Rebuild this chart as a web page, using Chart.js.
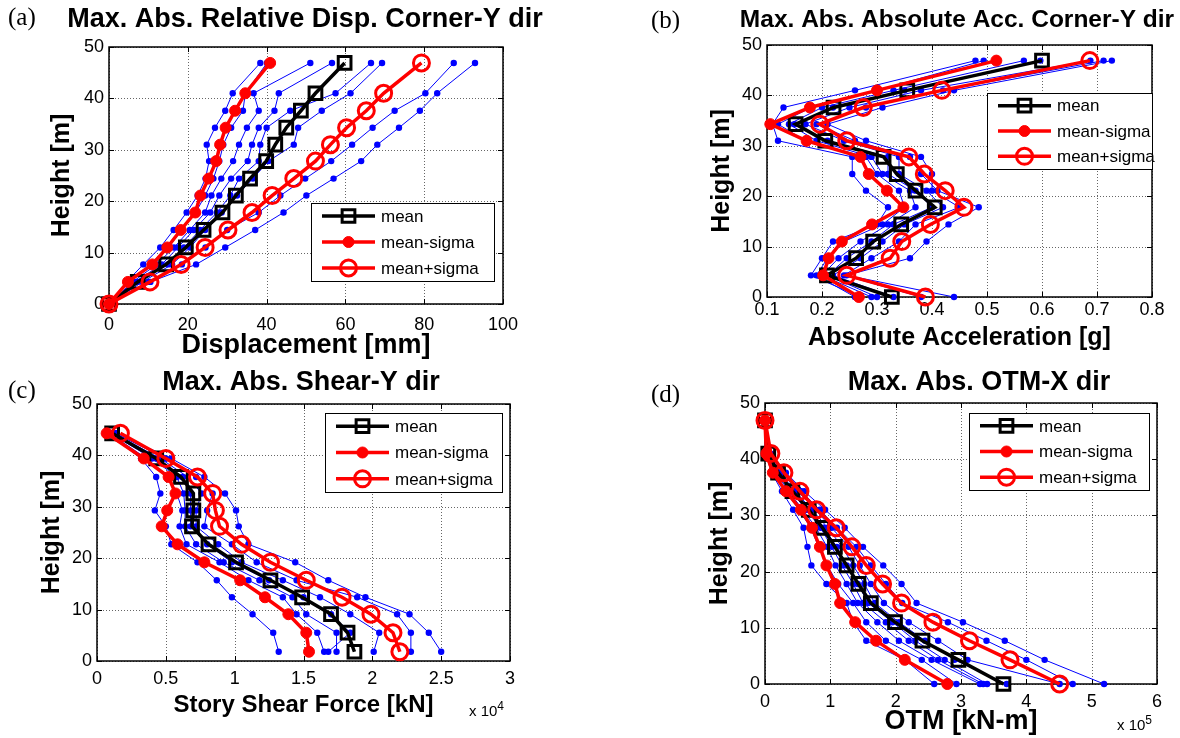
<!DOCTYPE html>
<html>
<head>
<meta charset="utf-8">
<script src="https://cdn.jsdelivr.net/npm/chart.js@4.4.0/dist/chart.umd.min.js"></script>
<style>
  body { margin: 0; background: #fff; }
  #page { position: relative; width: 1180px; height: 738px; overflow: hidden; font-family: "Liberation Sans", Arial, sans-serif; }
  canvas { position: absolute; }
  .tag { position: absolute; font-family: "Liberation Serif", "Times New Roman", serif; font-size: 25px; color: #000; }
  .mult { position: absolute; font-size: 15px; color: #000; }
  .mult sup { font-size: 12px; }
</style>
</head>
<body>
<div id="page">
  <canvas id="pa" width="590" height="369" style="left:0;top:0"></canvas>
  <canvas id="pb" width="590" height="369" style="left:590px;top:0"></canvas>
  <canvas id="pc" width="590" height="369" style="left:0;top:369px"></canvas>
  <canvas id="pd" width="590" height="369" style="left:590px;top:369px"></canvas>
  <span class="tag" style="left:8px;top:3px">(a)</span>
  <span class="tag" style="left:651px;top:6px">(b)</span>
  <span class="tag" style="left:8px;top:376px">(c)</span>
  <span class="tag" style="left:651px;top:380px">(d)</span>
  <span class="mult" style="left:469px;top:699px">x 10<sup>4</sup></span>
  <span class="mult" style="left:1117px;top:713px">x 10<sup>5</sup></span>
</div>
<script>
// --- datos ---
const heights = [0, 4.3, 7.7, 11.0, 14.4, 17.8, 21.1, 24.4, 27.8, 31.0, 34.3, 37.6, 41.0, 46.9];
const shearHeights = [1.8, 5.5, 9.1, 12.4, 15.7, 19.2, 22.7, 26.2, 29.3, 32.6, 35.8, 39.4, 44.3];

// (a) desplazamiento relativo [mm]
const dispMean  = [0, 7.3, 14.5, 19.5, 24.0, 28.8, 32.2, 35.8, 39.9, 42.2, 45.0, 48.7, 52.4, 59.8];
const dispMinus = [0, 4.8, 11.0, 14.8, 18.2, 21.9, 23.2, 25.3, 27.2, 28.2, 29.6, 32.0, 34.6, 40.9];
const dispPlus  = [0, 10.4, 18.3, 24.4, 30.2, 36.3, 41.4, 46.9, 52.4, 56.2, 60.3, 65.3, 69.7, 79.3];
const dispRecords = [
  [0, 4.5, 8.7, 13.0, 16.4, 19.7, 22.5, 24.5, 25.4, 24.8, 26.9, 29.5, 31.4, 38.4],
  [0, 5.2, 10.4, 15.0, 18.5, 22.0, 24.4, 26.5, 28.0, 29.0, 31.0, 34.0, 34.6, 40.1],
  [0, 6.0, 12.1, 16.5, 20.5, 24.4, 26.0, 28.5, 31.5, 33.0, 35.0, 38.0, 36.7, 51.1],
  [0, 6.5, 13.4, 17.5, 21.5, 25.7, 28.0, 31.0, 35.2, 36.3, 38.0, 42.0, 43.1, 56.6],
  [0, 7.2, 15.0, 19.0, 23.1, 27.4, 30.8, 33.0, 38.0, 38.4, 40.0, 46.0, 57.5, 66.5],
  [0, 8.5, 16.0, 20.6, 24.4, 28.6, 32.5, 36.5, 40.5, 46.9, 48.0, 54.0, 61.3, 69.3],
  [0, 10.0, 18.5, 24.5, 30.0, 38.0, 43.5, 49.8, 56.4, 61.7, 66.9, 72.5, 80.3, 87.5],
  [0, 10.5, 22.1, 29.5, 37.1, 44.3, 50.1, 57.0, 64.0, 68.1, 73.6, 78.9, 83.3, 92.9]
];

// (b) aceleracion absoluta [g]
const accMean  = [0.327, 0.209, 0.262, 0.293, 0.344, 0.405, 0.370, 0.336, 0.312, 0.206, 0.152, 0.221, 0.355, 0.600];
const accMinus = [0.267, 0.202, 0.212, 0.236, 0.291, 0.348, 0.318, 0.285, 0.270, 0.172, 0.106, 0.178, 0.300, 0.517];
const accPlus  = [0.388, 0.245, 0.324, 0.345, 0.397, 0.458, 0.424, 0.386, 0.358, 0.245, 0.196, 0.275, 0.418, 0.687];
const accRecords = [
  [0.26, 0.19, 0.21, 0.24, 0.31, 0.35, 0.34, 0.30, 0.28, 0.17, 0.12, 0.18, 0.30, 0.494],
  [0.27, 0.18, 0.20, 0.22, 0.30, 0.32, 0.28, 0.255, 0.255, 0.12, 0.11, 0.13, 0.26, 0.479],
  [0.29, 0.20, 0.23, 0.27, 0.32, 0.37, 0.36, 0.31, 0.29, 0.19, 0.14, 0.20, 0.33, 0.567],
  [0.30, 0.21, 0.245, 0.29, 0.33, 0.40, 0.37, 0.32, 0.32, 0.21, 0.15, 0.22, 0.35, 0.597],
  [0.33, 0.22, 0.27, 0.31, 0.35, 0.42, 0.39, 0.34, 0.34, 0.24, 0.17, 0.25, 0.38, 0.688],
  [0.44, 0.245, 0.36, 0.39, 0.43, 0.485, 0.41, 0.38, 0.36, 0.26, 0.19, 0.28, 0.42, 0.712],
  [0.38, 0.24, 0.29, 0.34, 0.37, 0.45, 0.40, 0.40, 0.38, 0.28, 0.21, 0.31, 0.44, 0.727]
];

// (c) cortante de piso [x 10^4 kN]
const shearMean  = [1.87, 1.82, 1.70, 1.49, 1.26, 1.01, 0.81, 0.69, 0.70, 0.70, 0.61, 0.43, 0.11];
const shearMinus = [1.54, 1.52, 1.39, 1.22, 1.04, 0.78, 0.585, 0.47, 0.51, 0.57, 0.52, 0.34, 0.07];
const shearPlus  = [2.20, 2.15, 1.99, 1.78, 1.52, 1.26, 1.05, 0.89, 0.86, 0.84, 0.73, 0.50, 0.17];
const shearRecords = [
  [1.32, 1.28, 1.13, 0.98, 0.87, 0.73, 0.54, 0.50, 0.42, 0.46, 0.43, 0.32, 0.08],
  [1.65, 1.60, 1.45, 1.35, 1.10, 0.89, 0.65, 0.60, 0.62, 0.58, 0.52, 0.36, 0.09],
  [1.74, 1.74, 1.52, 1.42, 1.18, 0.92, 0.72, 0.64, 0.64, 0.63, 0.58, 0.40, 0.10],
  [1.68, 1.84, 1.70, 1.50, 1.25, 0.98, 0.80, 0.68, 0.68, 0.68, 0.62, 0.43, 0.11],
  [2.01, 2.05, 1.84, 1.62, 1.35, 1.05, 0.88, 0.72, 0.72, 0.76, 0.66, 0.46, 0.12],
  [2.50, 2.41, 2.27, 1.95, 1.68, 1.44, 1.10, 1.03, 1.01, 0.93, 0.78, 0.54, 0.14],
  [2.28, 2.28, 2.18, 1.89, 1.45, 1.16, 0.98, 0.78, 0.80, 0.84, 0.72, 0.50, 0.13]
];

// (d) momento de volteo [x 10^5 kN-m]
const otmMean  = [3.65, 2.96, 2.41, 1.99, 1.62, 1.43, 1.25, 1.07, 0.88, 0.67, 0.42, 0.20, 0.05, 0];
const otmMinus = [2.79, 2.14, 1.70, 1.38, 1.15, 1.07, 0.94, 0.84, 0.72, 0.55, 0.32, 0.12, 0.02, 0];
const otmPlus  = [4.51, 3.75, 3.13, 2.57, 2.09, 1.80, 1.55, 1.33, 1.09, 0.79, 0.535, 0.29, 0.09, 0];
const otmRecords = [
  [2.59, 2.14, 1.55, 1.35, 1.25, 0.94, 0.71, 0.65, 0.59, 0.43, 0.26, 0.10, 0.01, 0],
  [2.93, 2.40, 1.85, 1.55, 1.35, 1.12, 0.95, 0.82, 0.70, 0.52, 0.32, 0.14, 0.02, 0],
  [3.29, 2.55, 2.05, 1.72, 1.42, 1.25, 1.08, 0.95, 0.78, 0.58, 0.36, 0.17, 0.03, 0],
  [3.34, 2.65, 2.20, 1.85, 1.50, 1.35, 1.18, 1.02, 0.85, 0.63, 0.40, 0.19, 0.04, 0],
  [3.40, 2.75, 2.30, 1.95, 1.58, 1.42, 1.25, 1.10, 0.90, 0.67, 0.43, 0.21, 0.05, 0],
  [3.70, 2.90, 2.45, 2.05, 1.68, 1.52, 1.35, 1.18, 0.96, 0.72, 0.46, 0.23, 0.06, 0],
  [4.51, 3.10, 2.65, 2.20, 1.82, 1.62, 1.45, 1.28, 1.02, 0.77, 0.50, 0.26, 0.07, 0],
  [4.71, 4.00, 3.39, 2.80, 2.10, 1.85, 1.62, 1.40, 1.10, 0.84, 0.55, 0.29, 0.08, 0],
  [5.19, 4.28, 3.67, 3.03, 2.32, 2.09, 1.81, 1.50, 1.22, 0.92, 0.60, 0.32, 0.09, 0]
];

const legendLabels = ['mean', 'mean-sigma', 'mean+sigma'];

Chart.defaults.font.family = '"Liberation Sans", Arial, sans-serif';
Chart.defaults.color = '#000';

// rejilla punteada, marco y marcas hacia dentro (estilo MATLAB)
const frame = {
  id: 'frame',
  beforeDatasetsDraw(chart) {
    const { ctx, chartArea: a, scales: { x, y } } = chart;
    const seg = (x0, y0, x1, y1) => { ctx.beginPath(); ctx.moveTo(x0, y0); ctx.lineTo(x1, y1); ctx.stroke(); };
    ctx.save();
    ctx.strokeStyle = '#666';
    ctx.lineWidth = 1;
    ctx.setLineDash([1, 2]);
    x.ticks.forEach(t => { const p = Math.round(x.getPixelForValue(t.value)) + 0.5; seg(p, a.top, p, a.bottom); });
    y.ticks.forEach(t => { const p = Math.round(y.getPixelForValue(t.value)) + 0.5; seg(a.left, p, a.right, p); });
    ctx.setLineDash([]);
    ctx.strokeStyle = '#000';
    x.ticks.forEach(t => {
      const p = Math.round(x.getPixelForValue(t.value)) + 0.5;
      seg(p, a.bottom, p, a.bottom - 5); seg(p, a.top, p, a.top + 5);
    });
    y.ticks.forEach(t => {
      const p = Math.round(y.getPixelForValue(t.value)) + 0.5;
      seg(a.left, p, a.left + 5, p); seg(a.right, p, a.right - 5, p);
    });
    ctx.lineWidth = 1.5;
    ctx.strokeRect(a.left, a.top, a.right - a.left, a.bottom - a.top);
    ctx.restore();
  }
};

// titulo del panel (puede salirse del ancho del area de datos)
const panelTitle = {
  id: 'panelTitle',
  afterDraw(chart, args, o) {
    const ctx = chart.ctx;
    ctx.save();
    ctx.font = 'bold ' + o.size + 'px "Liberation Sans", Arial, sans-serif';
    ctx.fillStyle = '#000';
    ctx.textAlign = 'center';
    ctx.textBaseline = 'middle';
    ctx.fillText(o.text, o.cx, o.cy);
    ctx.restore();
  }
};

function marker(ctx, d, cx, cy) {
  ctx.lineWidth = d.pointBorderWidth;
  ctx.strokeStyle = d.pointBorderColor;
  ctx.fillStyle = d.pointBackgroundColor;
  ctx.beginPath();
  if (d.pointStyle === 'rect') {
    const s = Math.SQRT1_2 * d.pointRadius;
    ctx.rect(cx - s, cy - s, 2 * s, 2 * s);
  } else {
    ctx.arc(cx, cy, d.pointRadius, 0, Math.PI * 2);
  }
  ctx.fill();
  if (d.pointBorderWidth > 0) ctx.stroke();
}

// leyenda con recuadro dentro del area de grafico
const boxLegend = {
  id: 'boxLegend',
  afterDatasetsDraw(chart, args, o) {
    const ctx = chart.ctx;
    const items = chart.data.datasets.filter(d => d.inLegend);
    ctx.save();
    ctx.fillStyle = '#fff';
    ctx.fillRect(o.x, o.y, o.w, o.h);
    ctx.strokeStyle = '#000';
    ctx.lineWidth = 1;
    ctx.strokeRect(o.x + 0.5, o.y + 0.5, o.w, o.h);
    items.forEach((d, i) => {
      const cy = o.y + o.h * (i + 0.5) / items.length;
      const x0 = o.x + 11, x1 = o.x + 64;
      ctx.strokeStyle = d.borderColor;
      ctx.lineWidth = d.borderWidth;
      ctx.beginPath(); ctx.moveTo(x0, cy); ctx.lineTo(x1, cy); ctx.stroke();
      marker(ctx, d, (x0 + x1) / 2, cy);
      ctx.fillStyle = '#000';
      ctx.font = '17px "Liberation Sans", Arial, sans-serif';
      ctx.textBaseline = 'middle';
      ctx.fillText(d.label, o.x + 70, cy + 1);
    });
    ctx.restore();
  }
};

function buildDatasets(mean, minus, plus, records, ys) {
  const pts = xs => xs.map((v, i) => ({ x: v, y: ys[i] }));
  const sets = records.map(r => ({
    data: pts(r), showLine: true, clip: false, order: 10,
    borderColor: '#0000ff', borderWidth: 1,
    pointRadius: 3.2, pointBackgroundColor: '#0000ff', pointBorderWidth: 0
  }));
  sets.push({
    label: legendLabels[0], inLegend: true, data: pts(mean), showLine: true, clip: false, order: 3,
    borderColor: '#000', borderWidth: 3.5,
    pointStyle: 'rect', pointRadius: 9, pointBorderWidth: 3,
    pointBorderColor: '#000', pointBackgroundColor: 'rgba(0,0,0,0)'
  });
  sets.push({
    label: legendLabels[1], inLegend: true, data: pts(minus), showLine: true, clip: false, order: 2,
    borderColor: '#ff0000', borderWidth: 3.5,
    pointStyle: 'circle', pointRadius: 5.5, pointBorderWidth: 1,
    pointBorderColor: '#ff0000', pointBackgroundColor: '#ff0000'
  });
  sets.push({
    label: legendLabels[2], inLegend: true, data: pts(plus), showLine: true, clip: false, order: 1,
    borderColor: '#ff0000', borderWidth: 3.5,
    pointStyle: 'circle', pointRadius: 8, pointBorderWidth: 3,
    pointBorderColor: '#ff0000', pointBackgroundColor: 'rgba(0,0,0,0)'
  });
  return sets;
}

const fmt = v => String(Math.round(v * 100) / 100);

function makePanel(id, p) {
  return new Chart(document.getElementById(id), {
    type: 'scatter',
    data: { datasets: p.datasets },
    options: {
      responsive: false,
      animation: false,
      events: [],
      layout: { padding: { left: 0, right: p.padRight, top: p.padTop, bottom: 0 } },
      plugins: {
        legend: { display: false },
        tooltip: { enabled: false },
        title: { display: false },
        panelTitle: p.title,
        boxLegend: p.legendBox
      },
      scales: {
        x: {
          type: 'linear', min: p.xMin, max: p.xMax,
          grid: { display: false, drawTicks: false }, border: { display: false },
          ticks: { stepSize: p.xStep, padding: p.xTickPad, font: { size: 18 }, color: '#000', callback: v => fmt(v) },
          title: { display: true, text: p.xLabel, color: '#000', font: { size: p.xLabelSize, weight: 'bold' }, padding: { top: 0, bottom: p.xTitlePad } },
          afterFit: s => { s.height = p.xAxisH; }
        },
        y: {
          type: 'linear', min: 0, max: 50,
          grid: { display: false, drawTicks: false }, border: { display: false },
          ticks: { stepSize: 10, padding: 5, font: { size: 18 }, color: '#000', callback: v => fmt(v) },
          title: { display: true, text: 'Height [m]', color: '#000', font: { size: 25, weight: 'bold' }, padding: { top: p.yTitlePad, bottom: 0 } },
          afterFit: s => { s.width = p.yAxisW; }
        }
      }
    },
    plugins: [frame, boxLegend, panelTitle]
  });
}

makePanel('pa', {
  datasets: buildDatasets(dispMean, dispMinus, dispPlus, dispRecords, heights),
  title: { text: 'Max. Abs. Relative Disp. Corner-Y dir', size: 27, cx: 305, cy: 20 },
  xLabel: 'Displacement [mm]', xLabelSize: 27, xMin: 0, xMax: 100, xStep: 20,
  padRight: 87, padTop: 47,
  xAxisH: 65, xTickPad: 10, xTitlePad: 7, yAxisW: 109, yTitlePad: 47,
  legendBox: { x: 311, y: 203, w: 183, h: 78 }
});

makePanel('pb', {
  datasets: buildDatasets(accMean, accMinus, accPlus, accRecords, heights),
  title: { text: 'Max. Abs. Absolute Acc. Corner-Y dir', size: 24.5, cx: 367, cy: 20 },
  xLabel: 'Absolute Acceleration [g]', xLabelSize: 25, xMin: 0.1, xMax: 0.8, xStep: 0.1,
  padRight: 28, padTop: 45,
  xAxisH: 72, xTickPad: 2, xTitlePad: 16, yAxisW: 177, yTitlePad: 117,
  legendBox: { x: 397, y: 93, w: 165, h: 76 }
});

makePanel('pc', {
  datasets: buildDatasets(shearMean, shearMinus, shearPlus, shearRecords, shearHeights),
  title: { text: 'Max. Abs. Shear-Y dir', size: 27, cx: 301, cy: 14 },
  xLabel: 'Story Shear Force [kN]', xLabelSize: 24, xMin: 0, xMax: 3, xStep: 0.5,
  padRight: 80, padTop: 35,
  xAxisH: 77, xTickPad: 7, xTitlePad: 18, yAxisW: 97, yTitlePad: 37,
  legendBox: { x: 325, y: 44, w: 177, h: 79 }
});

makePanel('pd', {
  datasets: buildDatasets(otmMean, otmMinus, otmPlus, otmRecords, heights),
  title: { text: 'Max. Abs. OTM-X dir', size: 27, cx: 389, cy: 14 },
  xLabel: 'OTM [kN-m]', xLabelSize: 27, xMin: 0, xMax: 6, xStep: 1,
  padRight: 23, padTop: 34,
  xAxisH: 54, xTickPad: 7, xTitlePad: 0, yAxisW: 175, yTitlePad: 115,
  legendBox: { x: 379, y: 44, w: 180, h: 77 }
});
</script>
</body>
</html>
